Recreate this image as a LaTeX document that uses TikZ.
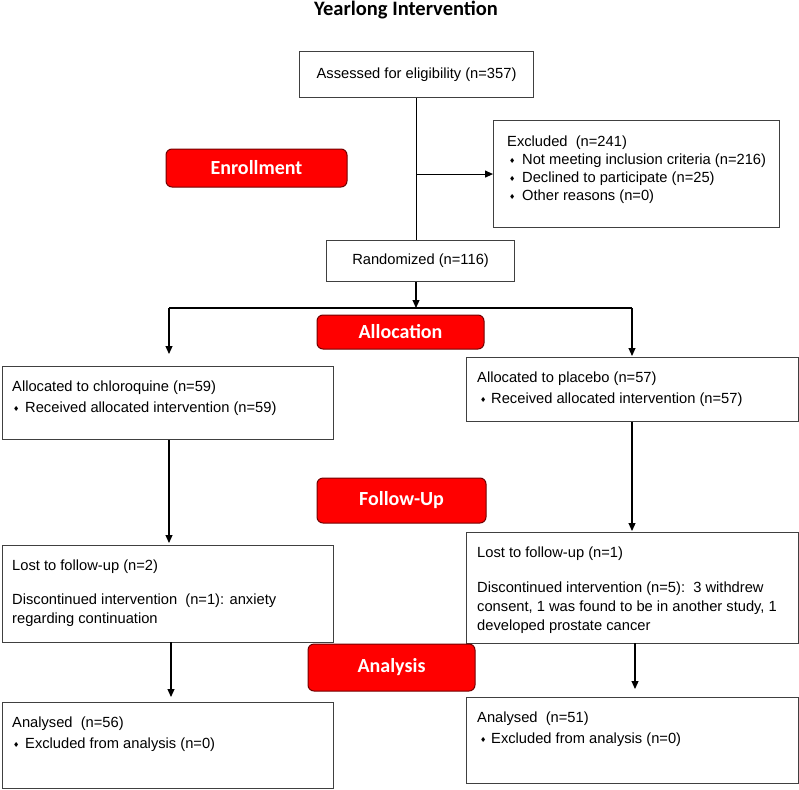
\documentclass[tikz,border=0pt]{standalone}
\usepackage{fontspec}
\setmainfont{Liberation Sans}
\newfontfamily\carlito{Carlito}
\newfontfamily\symfont{DejaVu Sans}
\usetikzlibrary{arrows.meta}
\newcommand{\bul}[1]{\makebox[#1][l]{\raisebox{0.8pt}{\symfont\fontsize{7}{8}\selectfont ♦}}}
\begin{document}
\begin{tikzpicture}[x=1pt,y=-1pt, font=\fontsize{14.7}{18}\selectfont,
 box/.style={draw=black!75, line width=1.1pt, fill=white, inner sep=0pt, anchor=north west},
 stage/.style={draw=red!45!black, fill=red, rounded corners=6pt, line width=1pt, text=white, font=\carlito\bfseries\fontsize{20}{22}\selectfont, inner sep=0pt},
 txt/.style={anchor=base west, inner sep=0pt},
 conn/.style={line width=1.1pt, black},
 arr/.style={conn, -{Triangle[length=8pt,width=7pt]}}]
\useasboundingbox (0,0) rectangle (799,789);

\node[font=\carlito\bfseries\fontsize{20.5}{23}\selectfont, anchor=base] (title) at (406,15.5) {Yearlong Intervention};

% boxes
\node[box, minimum width=234, minimum height=46] (assess) at (299,51) {};
\node at (assess.center) {Assessed for eligibility (n=357)};
\node[box, minimum width=286, minimum height=107] (excl) at (493,120) {};
\node[box, minimum width=188, minimum height=41] (rand) at (326,240) {};
\node at (rand.center) {Randomized (n=116)};
\node[box, minimum width=331, minimum height=73] (allocL) at (2,366) {};
\node[box, minimum width=332, minimum height=64] (allocR) at (466,357) {};
\node[box, minimum width=331, minimum height=97] (fuL) at (2,545) {};
\node[box, minimum width=332, minimum height=111] (fuR) at (466,532) {};
\node[box, minimum width=331, minimum height=86] (anL) at (2,702) {};
\node[box, minimum width=332, minimum height=86] (anR) at (466,697) {};

% stage labels
\node[stage, minimum width=181, minimum height=38] (enr) at (256.5,168) {Enrollment};
\node[stage, minimum width=167, minimum height=34] (alc) at (400.5,332) {Allocation};
\node[stage, minimum width=169, minimum height=45] (fup) at (401.5,500.5) {Follow-Up};
\node[stage, minimum width=167, minimum height=47] (ana) at (391.5,667.5) {Analysis};

% texts
\node[txt] at (507,146) {Excluded\ \ (n=241)};
\node[txt] at (509,164.3) {\bul{13pt}Not meeting inclusion criteria (n=216)};
\node[txt] at (509,182.7) {\bul{13pt}Declined to participate (n=25)};
\node[txt] at (509,200.7) {\bul{13pt}Other reasons (n=0)};

\node[txt] at (12,391) {Allocated to chloroquine (n=59)};
\node[txt] at (13,412) {\bul{12pt}Received allocated intervention (n=59)};
\node[txt] at (477,382) {Allocated to placebo (n=57)};
\node[txt] at (480,403) {\bul{11pt}Received allocated intervention (n=57)};

\node[txt] at (12,570) {Lost to follow-up (n=2)};
\node[txt] at (12,604) {Discontinued intervention\ \ (n=1): anxiety};
\node[txt] at (12,623) {regarding continuation};
\node[txt] at (477,557) {Lost to follow-up (n=1)};
\node[txt] at (477,592) {Discontinued intervention (n=5):\ \ 3 withdrew};
\node[txt] at (477,611) {consent, 1 was found to be in another study, 1};
\node[txt] at (477,630) {developed prostate cancer};

\node[txt] at (12,727) {Analysed\ \ (n=56)};
\node[txt] at (13,748) {\bul{12pt}Excluded from analysis (n=0)};
\node[txt] at (477,722) {Analysed\ \ (n=51)};
\node[txt] at (480,743) {\bul{11pt}Excluded from analysis (n=0)};

% connector coordinates
\coordinate (split) at (416,308);
\coordinate (lsplit) at (169,308);
\coordinate (rsplit) at (632,308);
\coordinate (t1) at (169,354);
\coordinate (t2) at (632,356);
\coordinate (t3) at (169,543);
\coordinate (t4) at (632,531);
\coordinate (s5) at (171,642);
\coordinate (t5) at (171,697);
\coordinate (s6) at (635,643);
\coordinate (t6) at (635,689);

% connectors
\draw[conn] (assess.south) -- (assess.south |- rand.north);
\draw[arr] (assess.south |- excl.west) -- (excl.west);
\draw[arr] (rand.south -| split) -- (split);
\draw[conn] (lsplit) -- (rsplit);
\draw[arr] (lsplit) -- (t1);
\draw[arr] (rsplit) -- (t2);
\draw[arr] (allocL.south -| t1) -- (t3);
\draw[arr] (allocR.south -| t2) -- (t4);
\draw[arr] (s5) -- (t5);
\draw[arr] (s6) -- (t6);
\end{tikzpicture}
\end{document}
